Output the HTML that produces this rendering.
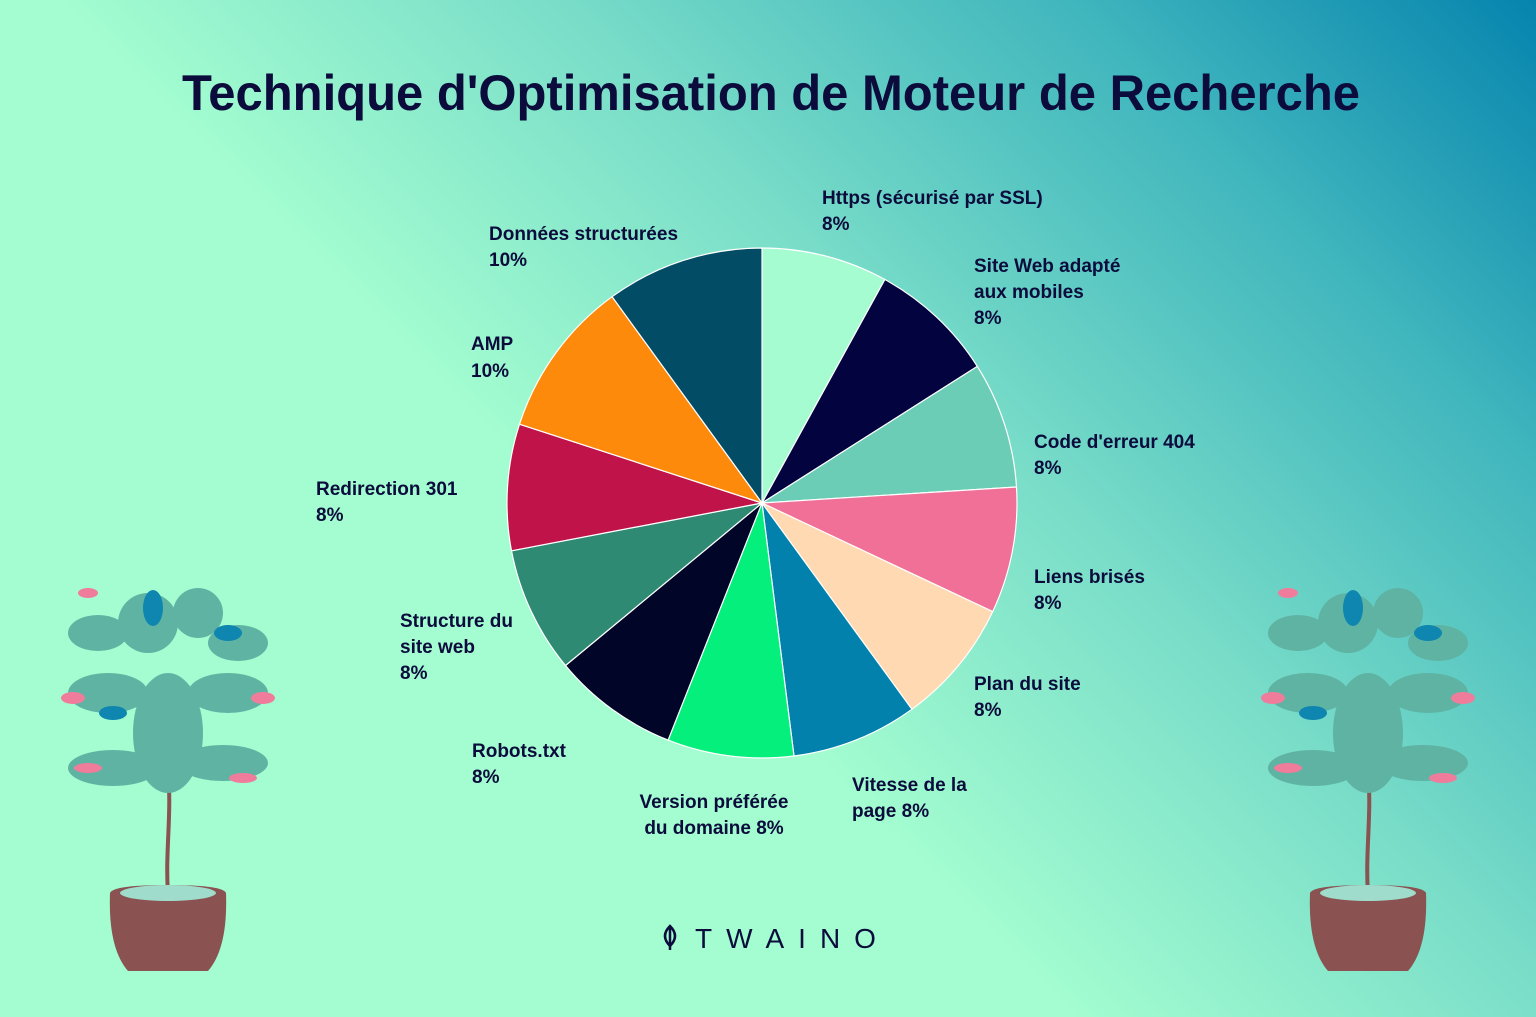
<!DOCTYPE html>
<html><head><meta charset="utf-8"><style>
html,body{margin:0;padding:0;width:1536px;height:1017px;overflow:hidden}
body{background:linear-gradient(225deg,#0684ae 0%,#3fb5bd 18%,#78dcc8 38%,#a3fdd0 58%,#a3fdd0 100%)}
svg{position:absolute;left:0;top:0}
text{font-family:"Liberation Sans",sans-serif;font-weight:bold;fill:#0b0b3c}
</style></head><body>
<svg width="1536" height="1017" viewBox="0 0 1536 1017">
<text x="771" y="110" font-size="50" text-anchor="middle" textLength="1178" lengthAdjust="spacingAndGlyphs" fill="#08083f">Technique d'Optimisation de Moteur de Recherche</text>
<g stroke="#ffffff" stroke-width="1.2">
<path d="M762,503 L762,248 A255,255 0 0 1 884.9,279.5Z" fill="#a4fcd0"/>
<path d="M762,503 L884.9,279.5 A255,255 0 0 1 977.3,366.4Z" fill="#02033f"/>
<path d="M762,503 L977.3,366.4 A255,255 0 0 1 1016.5,487Z" fill="#6ccdb6"/>
<path d="M762,503 L1016.5,487 A255,255 0 0 1 992.7,611.6Z" fill="#f07098"/>
<path d="M762,503 L992.7,611.6 A255,255 0 0 1 911.9,709.3Z" fill="#fed9b1"/>
<path d="M762,503 L911.9,709.3 A255,255 0 0 1 794,756Z" fill="#0181ac"/>
<path d="M762,503 L794,756 A255,255 0 0 1 668.1,740.1Z" fill="#05ef7d"/>
<path d="M762,503 L668.1,740.1 A255,255 0 0 1 565.5,665.5Z" fill="#010527"/>
<path d="M762,503 L565.5,665.5 A255,255 0 0 1 511.5,550.8Z" fill="#2e8a73"/>
<path d="M762,503 L511.5,550.8 A255,255 0 0 1 519.5,424.2Z" fill="#c01349"/>
<path d="M762,503 L519.5,424.2 A255,255 0 0 1 612.1,296.7Z" fill="#fe8a0b"/>
<path d="M762,503 L612.1,296.7 A255,255 0 0 1 762,248Z" fill="#034c66"/>
</g>
<g font-size="19">
<text x="822" y="204">Https (sécurisé par SSL)</text><text x="822" y="230">8%</text>
<text x="974" y="272">Site Web adapté</text><text x="974" y="298">aux mobiles</text><text x="974" y="324">8%</text>
<text x="1034" y="448">Code d'erreur 404</text><text x="1034" y="474">8%</text>
<text x="1034" y="583">Liens brisés</text><text x="1034" y="609">8%</text>
<text x="974" y="690">Plan du site</text><text x="974" y="716">8%</text>
<text x="852" y="791">Vitesse de la</text><text x="852" y="817">page 8%</text>
<text x="714" y="808" text-anchor="middle">Version préférée</text><text x="714" y="834" text-anchor="middle">du domaine 8%</text>
<text x="472" y="757">Robots.txt</text><text x="472" y="783">8%</text>
<text x="400" y="627">Structure du</text><text x="400" y="653">site web</text><text x="400" y="679">8%</text>
<text x="316" y="495">Redirection 301</text><text x="316" y="521">8%</text>
<text x="471" y="350">AMP</text><text x="471" y="377">10%</text>
<text x="489" y="240">Données structurées</text><text x="489" y="266">10%</text>
</g>
<g>
<path d="M670,926 q-10,10 0,20 q10,-10 0,-20z M670,926 v24" fill="none" stroke="#0b0b3c" stroke-width="2.5"/>
<text x="695" y="948" font-size="28" letter-spacing="14" style="font-weight:normal">TWAINO</text>
</g>
<defs>
<g id="plant">
<path d="M0,0 C-3,-40 4,-80 0,-120" stroke="#8a5250" stroke-width="4" fill="none"/>
<path d="M-58,0 Q-55,-8 0,-8 Q55,-8 58,0 Q60,55 40,78 L-40,78 Q-60,55 -58,0z" fill="#8a5250"/>
<ellipse cx="0" cy="0" rx="48" ry="8" fill="#9fdccb"/>
<g fill="#5fb3a3">
<ellipse cx="0" cy="-160" rx="35" ry="60"/>
<ellipse cx="-55" cy="-125" rx="45" ry="18"/>
<ellipse cx="55" cy="-130" rx="45" ry="18"/>
<ellipse cx="-60" cy="-200" rx="40" ry="20"/>
<ellipse cx="60" cy="-200" rx="40" ry="20"/>
<ellipse cx="-20" cy="-270" rx="30" ry="30"/>
<ellipse cx="30" cy="-280" rx="25" ry="25"/>
<ellipse cx="-70" cy="-260" rx="30" ry="18"/>
<ellipse cx="70" cy="-250" rx="30" ry="18"/>
</g>
<g fill="#0e86b0"><ellipse cx="-15" cy="-285" rx="10" ry="18"/><ellipse cx="60" cy="-260" rx="14" ry="8"/><ellipse cx="-55" cy="-180" rx="14" ry="7"/></g>
<g fill="#f07c9c"><ellipse cx="-95" cy="-195" rx="12" ry="6"/><ellipse cx="95" cy="-195" rx="12" ry="6"/><ellipse cx="-80" cy="-125" rx="14" ry="5"/><ellipse cx="75" cy="-115" rx="14" ry="5"/><ellipse cx="-80" cy="-300" rx="10" ry="5"/></g>
</g>
</defs>
<use href="#plant" transform="translate(168,893)"/>
<use href="#plant" transform="translate(1368,893)"/>
</svg>
</body></html>
